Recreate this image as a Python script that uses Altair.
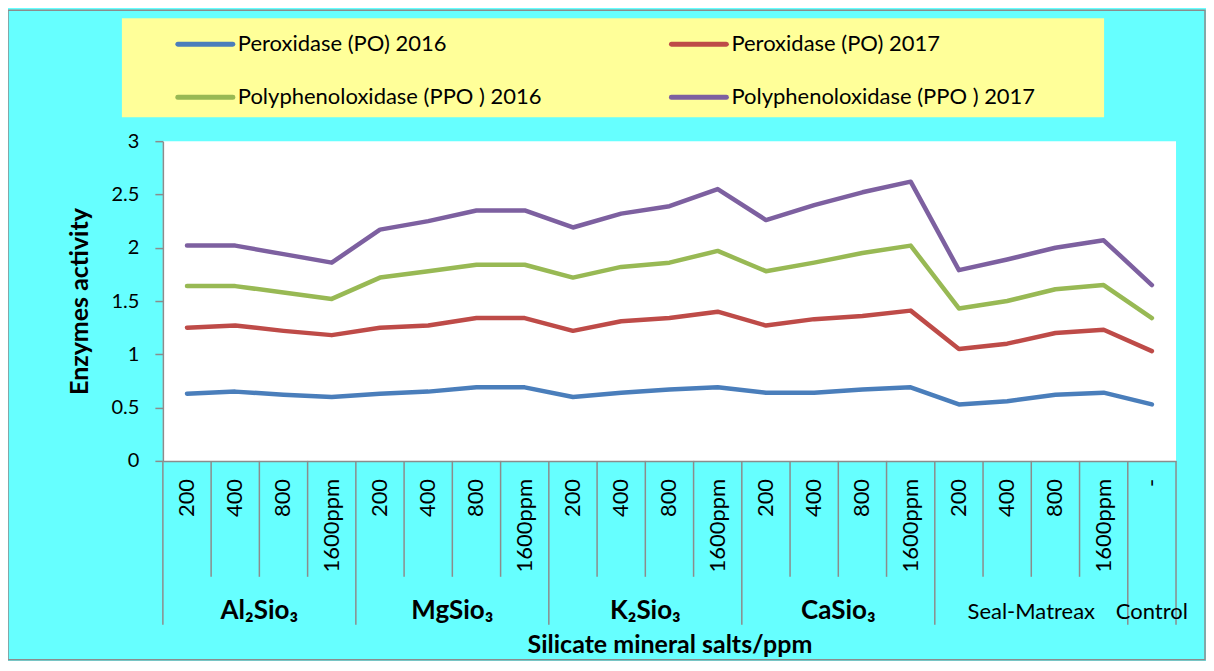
import altair as alt
import pandas as pd

# ---------------- data ----------------
sub_labels = ["200", "400", "800", "1600ppm"] * 5 + ["-"]
group_names = ["Al₂Sio₃", "MgSio₃", "K₂Sio₃", "CaSio₃", "Seal-Matreax", "Control"]
group_start = [0, 4, 8, 12, 16, 20]
group_end = [4, 8, 12, 16, 20, 21]
group_bold = [True, True, True, True, False, False]

series_names = ["Peroxidase (PO) 2016", "Peroxidase (PO) 2017",
                "Polyphenoloxidase (PPO ) 2016", "Polyphenoloxidase (PPO ) 2017"]
series_colors = ["#4A7EBB", "#BE4B48", "#98B954", "#7D60A0"]

po_2016 = [0.63, 0.65, 0.62, 0.60, 0.63, 0.65, 0.69, 0.69, 0.60, 0.64, 0.67,
           0.69, 0.64, 0.64, 0.67, 0.69, 0.53, 0.56, 0.62, 0.64, 0.53]
po_2017 = [1.25, 1.27, 1.22, 1.18, 1.25, 1.27, 1.34, 1.34, 1.22, 1.31, 1.34,
           1.40, 1.27, 1.33, 1.36, 1.41, 1.05, 1.10, 1.20, 1.23, 1.03]
ppo_2016 = [1.64, 1.64, 1.58, 1.52, 1.72, 1.78, 1.84, 1.84, 1.72, 1.82, 1.86,
            1.97, 1.78, 1.86, 1.95, 2.02, 1.43, 1.50, 1.61, 1.65, 1.34]
ppo_2017 = [2.02, 2.02, 1.94, 1.86, 2.17, 2.25, 2.35, 2.35, 2.19, 2.32, 2.39,
            2.55, 2.26, 2.40, 2.52, 2.62, 1.79, 1.89, 2.00, 2.07, 1.65]
series_values = [po_2016, po_2017, ppo_2016, ppo_2017]

y_ticks = [0, 0.5, 1, 1.5, 2, 2.5, 3]

# ---------------- layout ----------------
W, H = 1014, 320
FONT = "Lato, 'Noto Sans', sans-serif"
GRAY = "#8C8C8C"
BG = "#66FFFF"
LEG_BG = "#FFFF99"

n = len(sub_labels)

rows = []
for name, vals in zip(series_names, series_values):
    for i, v in enumerate(vals):
        rows.append({"series": name, "pos": i + 0.5, "value": v})
df_lines = pd.DataFrame(rows)

df_sub = pd.DataFrame({"pos": [i + 0.5 for i in range(n)], "sub": sub_labels})

group_edges = sorted(set(group_start + group_end))
df_long = pd.DataFrame({"pos": group_edges})
df_short = pd.DataFrame({"pos": [k for k in range(n + 1) if k not in group_edges]})

df_groups = pd.DataFrame({
    "pos": [(s + e) / 2 for s, e in zip(group_start, group_end)],
    "name": group_names,
    "bold": group_bold,
})

xscale = alt.Scale(domain=[0, n], nice=False, zero=False)
xaxis = alt.Axis(labels=False, ticks=False, grid=False, domainColor=GRAY,
                 domainWidth=1.5, title="Silicate mineral salts/ppm",
                 titleFont=FONT, titleFontSize=25, titleFontWeight="bold",
                 titleColor="black", titleX=W / 2, titleY=184,
                 titleAlign="center", titleBaseline="middle")


def X(field="pos"):
    return alt.X(f"{field}:Q", scale=xscale, axis=xaxis)


lines = alt.Chart(df_lines).mark_line(
    strokeWidth=4.5, strokeCap="round", strokeJoin="round"
).encode(
    x=X(),
    y=alt.Y("value:Q", scale=alt.Scale(domain=[0, 3], nice=False),
            axis=alt.Axis(values=y_ticks, format="~g", grid=False,
                          domainColor=GRAY, domainWidth=1.5, tickColor=GRAY,
                          tickSize=8, tickWidth=1.5, labelFont=FONT,
                          labelFontSize=20, labelColor="black", labelPadding=16,
                          title="Enzymes activity", titleFont=FONT,
                          titleFontSize=25, titleFontWeight="bold",
                          titleColor="black", titleX=-83, titleY=H / 2,
                          titleAngle=270, titleAlign="center",
                          titleBaseline="middle")),
    color=alt.Color("series:N", scale=alt.Scale(domain=series_names,
                                                range=series_colors),
                    legend=None),
    order="pos:Q",
)

short_rules = alt.Chart(df_short).mark_rule(color=GRAY, strokeWidth=1.5).encode(
    x=X(), y=alt.value(H), y2=alt.value(H + 116))
long_rules = alt.Chart(df_long).mark_rule(color=GRAY, strokeWidth=1.5).encode(
    x=X(), y=alt.value(H), y2=alt.value(H + 164))

sub_text = alt.Chart(df_sub).mark_text(
    angle=270, align="right", baseline="middle", font=FONT, fontSize=22,
    color="black"
).encode(x=X(), y=alt.value(H + 18), text="sub:N")

grp_bold = alt.Chart(df_groups[df_groups["bold"]]).mark_text(
    align="center", baseline="alphabetic", font=FONT, fontSize=26,
    fontWeight="bold", color="black"
).encode(x=X(), y=alt.value(H + 158), text="name:N")

grp_reg = alt.Chart(df_groups[~df_groups["bold"]]).mark_text(
    align="center", baseline="alphabetic", font=FONT, fontSize=22,
    color="black"
).encode(x=X(), y=alt.value(H + 158), text="name:N")

# legend (manual, yellow box)
leg_box = alt.Chart(pd.DataFrame({"k": [0]})).mark_rect(color=LEG_BG).encode(
    x=alt.value(-41), x2=alt.value(942), y=alt.value(-123), y2=alt.value(-24))

leg_cols = [15, 509]
leg_rows = [-97, -44]
leg_layers = []
for idx, (name, col) in enumerate(zip(series_names, series_colors)):
    cx = leg_cols[idx % 2]
    cy = leg_rows[idx // 2]
    d = pd.DataFrame({"name": [name]})
    leg_layers.append(
        alt.Chart(d).mark_rule(color=col, strokeWidth=5, strokeCap="round").encode(
            x=alt.value(cx), x2=alt.value(cx + 55), y=alt.value(cy)))
    leg_layers.append(
        alt.Chart(d).mark_text(align="left", baseline="middle", font=FONT,
                               fontSize=22, color="black").encode(
            x=alt.value(cx + 60), y=alt.value(cy), text="name:N"))

border = alt.Chart(pd.DataFrame({"k": [0]})).mark_rect(
    fillOpacity=0, stroke=GRAY, strokeWidth=1.5).encode(
    x=alt.value(-155), x2=alt.value(W + 29), y=alt.value(-131), y2=alt.value(H + 199))

chart = alt.layer(
    border, leg_box, *leg_layers, short_rules, long_rules, sub_text,
    grp_bold, grp_reg, lines
).properties(
    width=W, height=H,
    padding={"left": 155, "top": 133, "right": 30, "bottom": 200},
    autosize=alt.AutoSizeParams(type="none"),
    background=BG,
).configure_view(fill="white", stroke=None)

chart.save("out.html", embed_options={"renderer": "svg", "actions": False})
